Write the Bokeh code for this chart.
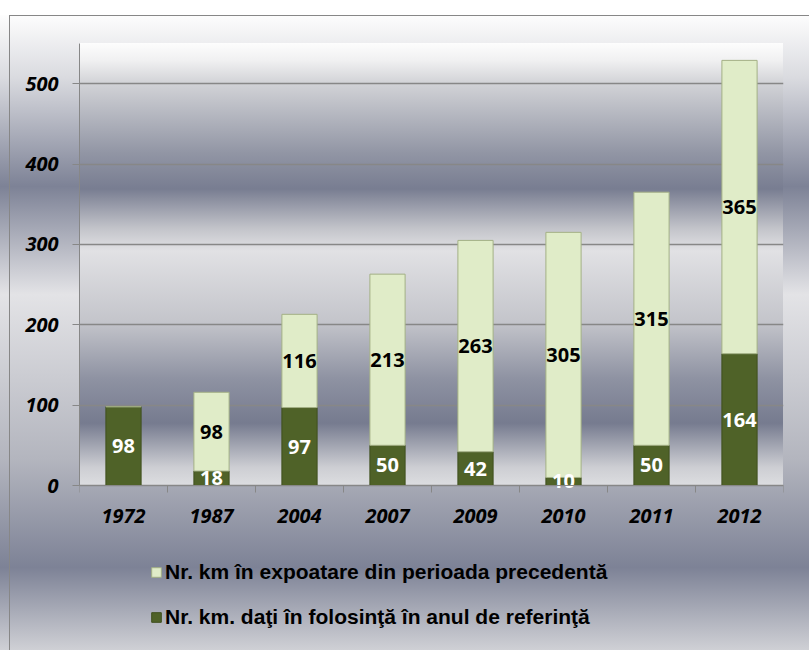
from bokeh.plotting import figure
from bokeh.models import Range1d, FixedTicker, Legend, LegendItem, ColumnDataSource
from bokeh.embed import file_html
from bokeh.resources import INLINE
from bokeh.core.properties import value
import numpy as np

# ---- data ----
years = ["1972", "1987", "2004", "2007", "2009", "2010", "2011", "2012"]
km_new = [98, 18, 97, 50, 42, 10, 50, 164]          # Nr. km. daţi în folosinţă în anul de referinţă
km_prev = [0, 98, 116, 213, 263, 305, 315, 365]      # Nr. km în expoatare din perioada precedentă
y_ticks = [0, 100, 200, 300, 400, 500]
label_prev = "Nr. km în expoatare din perioada precedentă"
label_new = "Nr. km. daţi în folosinţă în anul de referinţă"

# ---- styling / layout ----
DARK = "#4f6228"
LIGHT = "#e0ecc8"
GRID = "#878787"
FONT = "Open Sans"
W, H = 809, 650
F_LEFT, F_RIGHT, F_TOP = 79, 783, 43       # frame edges (px)
ZERO_PX = 485                              # pixel row of value 0
Y_TOP = 550                                # value at frame top
MB = 5                                     # bottom border
frame_bottom = H - MB
y_start = -Y_TOP * (frame_bottom - ZERO_PX) / (ZERO_PX - F_TOP)

n = len(years)
xpos = np.arange(n) + 0.5
new_arr = np.array(km_new, dtype=float)
prev_arr = np.array(km_prev, dtype=float)

src = ColumnDataSource(dict(x=xpos, new=new_arr, prev=prev_arr))

inner_grad = ("linear-gradient(to bottom, #fdfdfd 0%, #f0f0f1 4%, #d2d3d7 9%, #9195a4 25%, "
              "#787d91 33%, #c3c4ca 42%, #e1e1e4 47%, #c4c5cb 63%, #8e92a2 76%, "
              "#767b8f 86%, #cdced3 96%, #dcdde0 100%)")
outer_grad = ("linear-gradient(to bottom, #fdfdfd 0%, #d9dadf 10%, #7d8296 27%, #e3e3e6 44%, "
              "#b3b5be 70%, #7d8296 87%, #cfd0d5 100%)")
bg = (inner_grad + f" {F_LEFT}px {F_TOP}px / {F_RIGHT - F_LEFT}px {ZERO_PX - F_TOP}px no-repeat, "
      "linear-gradient(#878787,#878787) 9px 15px / 1px 100% no-repeat, "
      "linear-gradient(#878787,#878787) 9px 15px / 100% 1px no-repeat, "
      + outer_grad + " 0px 15px / 100% 635px no-repeat, #ffffff")

p = figure(width=W, height=H,
           x_range=Range1d(0, n), y_range=Range1d(y_start, Y_TOP),
           output_backend="svg", toolbar_location=None,
           min_border_left=F_LEFT, min_border_right=W - F_RIGHT,
           min_border_top=F_TOP, min_border_bottom=MB,
           background_fill_alpha=0, border_fill_alpha=0, outline_line_color=None)
p.styles = {"background": bg}

renderers = p.vbar_stack(["new", "prev"], x="x", width=0.4, source=src,
                         fill_color=[DARK, LIGHT], line_color=["#3f4f1e", "#a3b085"],
                         line_width=1)
r_new, r_prev = renderers

# value labels
mid_new = new_arr / 2
mid_prev = new_arr + prev_arr / 2
p.text(x=xpos, y=mid_new, text=[str(v) for v in km_new],
       text_color="white", text_font=value(FONT), text_font_style="bold",
       text_font_size="20px", text_align="center", text_baseline="middle")
mask = prev_arr > 0
p.text(x=xpos[mask], y=mid_prev[mask], text=[str(v) for v, m in zip(km_prev, mask) if m],
       text_color="black", text_font=value(FONT), text_font_style="bold",
       text_font_size="20px", text_align="center", text_baseline="middle")

# x axis, placed at value 0
xa = p.xaxis[0]
xa.fixed_location = 0
xa.ticker = FixedTicker(ticks=list(xpos), minor_ticks=list(range(n + 1)))
xa.major_label_overrides = {float(xv): yr for xv, yr in zip(xpos, years)}
xa.major_tick_out = 0
xa.major_tick_in = 0
xa.minor_tick_out = 7
xa.minor_tick_in = 0
xa.minor_tick_line_color = GRID
xa.axis_line_color = GRID
xa.major_label_text_font = FONT
xa.major_label_text_font_style = "bold italic"
xa.major_label_text_font_size = "20px"
xa.major_label_text_color = "black"
xa.major_label_standoff = 16

# y axis
ya = p.yaxis[0]
ya.bounds = (0, Y_TOP)
ya.ticker = FixedTicker(ticks=y_ticks)
ya.major_tick_out = 7
ya.major_tick_in = 0
ya.minor_tick_out = 0
ya.minor_tick_in = 0
ya.major_tick_line_color = GRID
ya.axis_line_color = GRID
ya.major_label_text_font = FONT
ya.major_label_text_font_style = "bold italic"
ya.major_label_text_font_size = "20px"
ya.major_label_text_color = "black"
ya.major_label_standoff = 14

p.xgrid.visible = False
p.ygrid.ticker = FixedTicker(ticks=y_ticks)
p.ygrid.grid_line_color = GRID
p.ygrid.grid_line_width = 1.3

legend = Legend(items=[LegendItem(label=label_prev, renderers=[r_prev]),
                       LegendItem(label=label_new, renderers=[r_new])],
                location=(71, 16), orientation="vertical",
                glyph_width=12, glyph_height=12, label_standoff=3, spacing=21,
                padding=0, margin=0, background_fill_alpha=0, border_line_alpha=0,
                label_text_font="Liberation Sans", label_text_font_style="bold",
                label_text_font_size="21px", label_text_color="black")
p.add_layout(legend)

open("out.html", "w").write(file_html(p, INLINE))
